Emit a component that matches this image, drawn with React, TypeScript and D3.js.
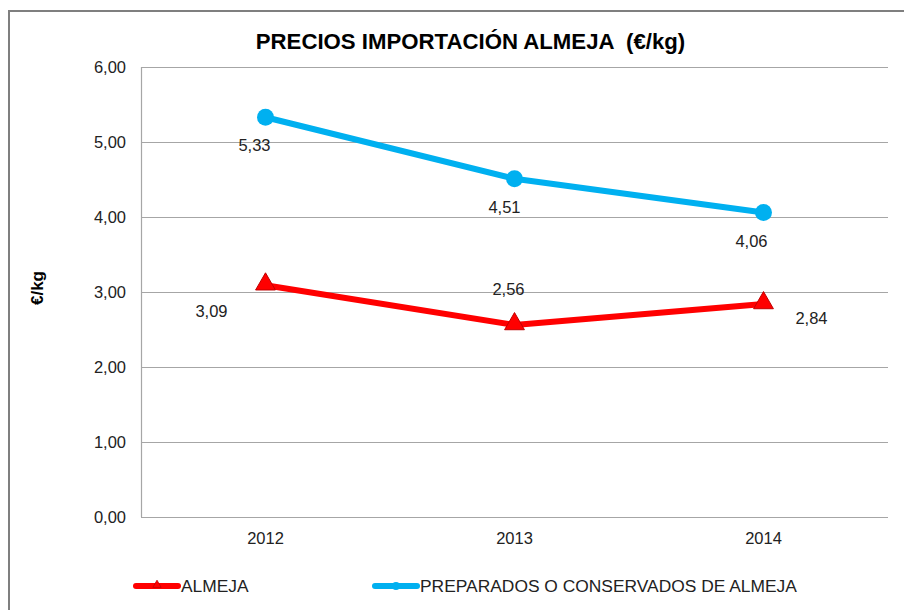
import React, { useEffect, useRef } from 'react';
import * as d3 from 'd3';

const years = ['2012', '2013', '2014'];
const almeja = [3.09, 2.56, 2.84];
const preparados = [5.33, 4.51, 4.06];
const yTicks = [0, 1, 2, 3, 4, 5, 6];
const seriesNames = ['ALMEJA', 'PREPARADOS O CONSERVADOS DE ALMEJA'];

// where Excel put each data label, relative to its point
const almejaLabelOffsets = [[-54, 32], [-6, -30], [48, 20]];
const preparadosLabelOffsets = [[-11, 34], [-10, 34], [-12, 34]];

const W = 904;
const H = 610;
const FONT = '"Liberation Sans", Arial, sans-serif';

const App: React.FC = () => {
  const svgRef = useRef<SVGSVGElement>(null);

  useEffect(() => {
    if (!svgRef.current) return;
    const svg = d3.select(svgRef.current);
    svg.selectAll('*').remove();

    const left = 141, right = 888, top = 67, bottom = 517;

    const x = d3.scaleBand<string>().domain(years).range([left, right]);
    const y = d3.scaleLinear().domain([0, 6]).range([bottom, top]);
    const fmt = (v: number) => v.toFixed(2).replace('.', ',');
    const cx = (d: string) => (x(d) || 0) + x.bandwidth() / 2;

    // outer chart border
    svg.append('rect')
      .attr('x', 9).attr('y', 11)
      .attr('width', W + 20).attr('height', H + 20)
      .attr('fill', 'none')
      .attr('stroke', '#7f7f7f')
      .attr('stroke-width', 2);

    svg.append('text')
      .attr('x', 470.5).attr('y', 49)
      .attr('text-anchor', 'middle')
      .style('font-family', FONT)
      .style('font-size', '22.2px')
      .style('font-weight', 'bold')
      .attr('xml:space', 'preserve')
      .text('PRECIOS IMPORTACIÓN ALMEJA  (€/kg)');

    // gridlines
    svg.append('g')
      .selectAll('line')
      .data(yTicks)
      .enter()
      .append('line')
      .attr('x1', left).attr('x2', right)
      .attr('y1', d => Math.round(y(d)) + 0.5)
      .attr('y2', d => Math.round(y(d)) + 0.5)
      .attr('stroke', '#a6a6a6')
      .attr('stroke-width', 1.2);

    svg.append('line')
      .attr('x1', left + 0.5).attr('x2', left + 0.5)
      .attr('y1', top).attr('y2', bottom)
      .attr('stroke', '#a6a6a6')
      .attr('stroke-width', 1.2);

    svg.append('g')
      .selectAll('text')
      .data(yTicks)
      .enter()
      .append('text')
      .attr('x', 126)
      .attr('y', d => y(d) + 6)
      .attr('text-anchor', 'end')
      .style('font-family', FONT)
      .style('font-size', '16.5px')
      .style('fill', '#222')
      .text(d => fmt(d));

    svg.append('g')
      .selectAll('text')
      .data(years)
      .enter()
      .append('text')
      .attr('x', d => cx(d))
      .attr('y', 544)
      .attr('text-anchor', 'middle')
      .style('font-family', FONT)
      .style('font-size', '16.5px')
      .style('fill', '#222')
      .text(d => d);

    svg.append('text')
      .attr('transform', 'translate(43,288) rotate(-90)')
      .attr('text-anchor', 'middle')
      .style('font-family', FONT)
      .style('font-size', '17px')
      .style('font-weight', 'bold')
      .text('€/kg');

    const line = d3.line<number>()
      .x((_, i) => cx(years[i]))
      .y(d => y(d));

    const tri = d3.symbol().type(d3.symbolTriangle);

    // ALMEJA
    svg.append('path')
      .datum(almeja)
      .attr('d', line)
      .attr('fill', 'none')
      .attr('stroke', '#ff0000')
      .attr('stroke-width', 6)
      .attr('stroke-linejoin', 'round');

    svg.append('g')
      .selectAll('path')
      .data(almeja)
      .enter()
      .append('path')
      .attr('d', tri.size(170)())
      .attr('transform', (d, i) => `translate(${cx(years[i])},${y(d) - 1})`)
      .attr('fill', '#ff0000')
      .attr('stroke', '#c00000')
      .attr('stroke-width', 1);

    // PREPARADOS
    svg.append('path')
      .datum(preparados)
      .attr('d', line)
      .attr('fill', 'none')
      .attr('stroke', '#00b0f0')
      .attr('stroke-width', 6)
      .attr('stroke-linejoin', 'round');

    svg.append('g')
      .selectAll('circle')
      .data(preparados)
      .enter()
      .append('circle')
      .attr('cx', (_, i) => cx(years[i]))
      .attr('cy', d => y(d))
      .attr('r', 8.5)
      .attr('fill', '#00b0f0');

    const labels = (vals: number[], offs: number[][]) => {
      svg.append('g')
        .selectAll('text')
        .data(vals)
        .enter()
        .append('text')
        .attr('x', (_, i) => cx(years[i]) + offs[i][0])
        .attr('y', (d, i) => y(d) + offs[i][1])
        .attr('text-anchor', 'middle')
        .style('font-family', FONT)
        .style('font-size', '16.5px')
        .style('fill', '#222')
        .text(d => fmt(d));
    };
    labels(almeja, almejaLabelOffsets);
    labels(preparados, preparadosLabelOffsets);

    // legend
    const legend = [
      { name: seriesNames[0], color: '#ff0000', x: 133, marker: 'tri' },
      { name: seriesNames[1], color: '#00b0f0', x: 372, marker: 'circle' },
    ];
    const ly = 586;
    legend.forEach(l => {
      const g = svg.append('g');
      g.append('line')
        .attr('x1', l.x + 3).attr('x2', l.x + 45)
        .attr('y1', ly).attr('y2', ly)
        .attr('stroke', l.color)
        .attr('stroke-width', 6)
        .attr('stroke-linecap', 'round');
      if (l.marker === 'tri') {
        g.append('path')
          .attr('d', tri.size(30)())
          .attr('transform', `translate(${l.x + 24},${ly - 1})`)
          .attr('fill', l.color)
          .attr('stroke', '#c00000')
          .attr('stroke-width', 0.8);
      } else {
        g.append('circle')
          .attr('cx', l.x + 24).attr('cy', ly)
          .attr('r', 4)
          .attr('fill', l.color);
      }
      g.append('text')
        .attr('x', l.x + 48)
        .attr('y', ly + 6)
        .style('font-family', FONT)
        .style('font-size', '17.4px')
        .style('fill', '#222')
        .text(l.name);
    });
  }, []);

  return (
    <svg
      ref={svgRef}
      width={W}
      height={H}
      style={{ position: 'absolute', left: 0, top: 0, background: '#fff', display: 'block' }}
    />
  );
};

export default App;
